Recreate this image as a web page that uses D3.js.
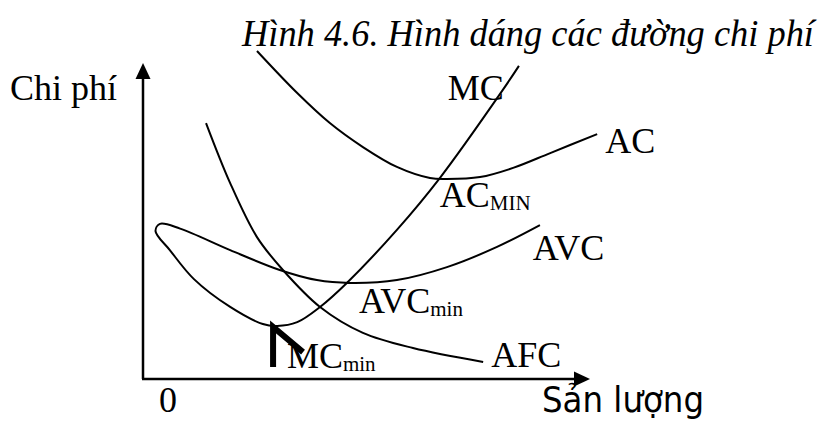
<!DOCTYPE html>
<html>
<head>
<meta charset="utf-8">
<script src="https://cdnjs.cloudflare.com/ajax/libs/d3/7.8.5/d3.min.js"></script>
<style>
  body { margin: 0; background: #fff; }
  svg { display: block; }
  text { font-family: "Liberation Serif", "Times New Roman", serif; fill: #000; }
</style>
</head>
<body>
<svg class="cost-chart"></svg>
<script>
// curve points, in chart units (x: output 0..100, y: cost 0..100)
var acPoints = [[25.5, 103.8], [34.5, 90.5], [41.8, 81.0], [49.2, 73.4], [56.8, 67.1],
    [64.2, 63.6], [68.0, 63.3], [75.4, 63.9], [82.8, 66.8], [91.1, 71.5], [101.6, 77.5]];

// MC and AVC are drawn as one stroke that loops at the left
var mcAvcPoints = [[84.1, 99.1], [80.5, 91.5], [66.4, 63.6], [56.8, 47.2], [45.6, 30.4],
    [39.6, 22.8], [34.5, 18.0], [30.0, 16.8], [26.8, 17.4], [19.5, 22.8], [11.4, 31.6],
    [6.0, 40.8], [2.8, 46.8], [3.8, 49.1], [8.3, 47.6], [19.5, 40.8], [30.6, 34.5],
    [38.9, 31.3], [46.3, 30.4], [56.8, 31.3], [68.0, 35.4], [79.2, 41.8], [88.8, 48.7]];

var afcPoints = [[14.1, 81.0], [19.5, 62.0], [25.5, 44.9], [31.3, 34.5], [39.6, 22.8],
    [49.2, 14.6], [60.4, 9.8], [76.1, 5.4]];

// thick marker pointing at MC minimum
var markerPoints = [[29.1, 3.8], [29.1, 16.5], [35.8, 8.5]];

var curveLabels = ["MC", "AC", "AC", "AVC", "AVC", "MC", "AFC"];
var curveSubs = ["", "", "MIN", "", "min", "min", ""];
var labelX = [68.2, 103.4, 66.4, 87.2, 48.3, 32.2, 77.9];
var labelY = [88.3, 71.5, 54.4, 37.7, 20.9, 3.5, 3.8];

var svgWidth = 838, svgHeight = 426;

var svg = d3.select(".cost-chart")
    .attr("width", svgWidth)
    .attr("height", svgHeight);

var xScale = d3.scaleLinear()
    .domain([0, 100])
    .range([143, 590]);

var yScale = d3.scaleLinear()
    .domain([0, 100])
    .range([379, 63]);

// axes
svg.append("line")
    .attr("x1", xScale(0)).attr("y1", yScale(0))
    .attr("x2", xScale(0)).attr("y2", yScale(100) + 12)
    .attr("stroke", "#000")
    .attr("stroke-width", 2.5);

svg.append("line")
    .attr("x1", xScale(0) - 1).attr("y1", yScale(0))
    .attr("x2", xScale(100) - 12).attr("y2", yScale(0))
    .attr("stroke", "#000")
    .attr("stroke-width", 2.5);

svg.append("path")
    .attr("d", "M" + xScale(0) + "," + yScale(100) +
        "L" + (xScale(0) + 7.5) + "," + (yScale(100) + 16) +
        "L" + (xScale(0) - 7.5) + "," + (yScale(100) + 16) + "Z")
    .attr("fill", "#000");

svg.append("path")
    .attr("d", "M" + xScale(100) + "," + yScale(0) +
        "L" + (xScale(100) - 16) + "," + (yScale(0) - 7.5) +
        "L" + (xScale(100) - 16) + "," + (yScale(0) + 7.5) + "Z")
    .attr("fill", "#000");

var line = d3.line()
    .x(function(d) { return xScale(d[0]); })
    .y(function(d) { return yScale(d[1]); })
    .curve(d3.curveCatmullRom.alpha(0.5));

svg.selectAll(".curve")
    .data([acPoints, mcAvcPoints, afcPoints])
    .enter()
    .append("path")
    .attr("class", "curve")
    .attr("d", line)
    .attr("fill", "none")
    .attr("stroke", "#000")
    .attr("stroke-width", 2);

svg.append("path")
    .attr("d", d3.line()
        .x(function(d) { return xScale(d[0]); })
        .y(function(d) { return yScale(d[1]); })(markerPoints))
    .attr("fill", "none")
    .attr("stroke", "#000")
    .attr("stroke-width", 6)
    .attr("stroke-linejoin", "miter");

// curve labels with subscripts
var labels = svg.selectAll(".curve-label")
    .data(curveLabels)
    .enter()
    .append("text")
    .attr("class", "curve-label")
    .attr("x", function(d, i) { return xScale(labelX[i]); })
    .attr("y", function(d, i) { return yScale(labelY[i]); })
    .attr("font-size", 36);

labels.append("tspan")
    .text(function(d) { return d; });

labels.append("tspan")
    .attr("font-size", 21)
    .attr("dy", 3)
    .text(function(d, i) { return curveSubs[i]; });

// axis titles
svg.append("text")
    .attr("x", 10)
    .attr("y", 100)
    .attr("font-size", 36)
    .text("Chi phí");

svg.append("text")
    .attr("x", 159)
    .attr("y", 412)
    .attr("font-size", 36)
    .text("0");

svg.append("text")
    .attr("x", 542)
    .attr("y", 412)
    .attr("font-size", 35)
    .attr("textLength", 162)
    .attr("lengthAdjust", "spacingAndGlyphs")
    .style("font-family", "'DejaVu Sans Condensed', 'DejaVu Sans', sans-serif")
    .text("Sản lượng");

svg.append("text")
    .attr("x", 242)
    .attr("y", 46)
    .attr("font-size", 38)
    .attr("font-style", "italic")
    .attr("textLength", 572)
    .attr("lengthAdjust", "spacingAndGlyphs")
    .text("Hình 4.6. Hình dáng các đường chi phí");
</script>
</body>
</html>
